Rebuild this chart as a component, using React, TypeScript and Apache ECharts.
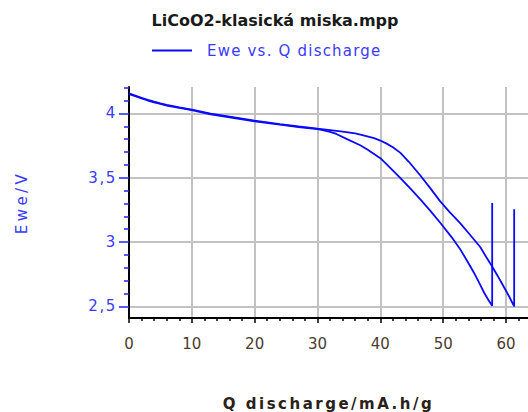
import React, { useEffect, useRef } from "react";
import * as echarts from "echarts";

const TITLE = "LiCoO2-klasická miska.mpp";
const SERIES_NAME = "Ewe vs. Q discharge";
const X_NAME = "Q discharge/mA.h/g";
const Y_NAME = "Ewe/V";

const X_TICKS = [0, 10, 20, 30, 40, 50, 60];
const Y_TICKS = [2.5, 3, 3.5, 4];
const Y_TICK_LABELS = ["2,5", "3", "3,5", "4"];

// cycle with the larger capacity (ends ~61.3 mA.h/g), then relaxation jump
const Q_CYCLE1 = [0, 1, 2, 3, 4, 5, 6, 8, 10, 13, 16, 20, 24, 27, 30, 32, 34, 36, 37.3, 39, 40, 41, 42, 43.2, 44.5, 46.4, 48, 49.5, 51, 52.7, 54.3, 55.9, 56.8, 57.8, 58.7, 59.6, 60.5, 61.3, 61.3];
const E_CYCLE1 = [4.155, 4.138, 4.121, 4.105, 4.091, 4.078, 4.066, 4.047, 4.03, 3.998, 3.975, 3.943, 3.917, 3.898, 3.881, 3.87, 3.859, 3.844, 3.829, 3.807, 3.789, 3.765, 3.737, 3.693, 3.626, 3.515, 3.415, 3.318, 3.235, 3.147, 3.055, 2.962, 2.888, 2.81, 2.735, 2.657, 2.577, 2.5, 3.256];

// cycle with the smaller capacity (ends ~57.8 mA.h/g), then relaxation jump
const Q_CYCLE2 = [0, 1, 2, 3, 4, 5, 6, 8, 10, 13, 16, 20, 24, 27, 30, 31, 32, 33, 34.7, 36.8, 38, 40, 41.5, 43.2, 44.8, 46.4, 48, 49.5, 51.4, 52.7, 53.8, 54.9, 55.9, 56.5, 57.2, 57.8, 57.8];
const E_CYCLE2 = [4.15, 4.133, 4.116, 4.1, 4.086, 4.073, 4.061, 4.042, 4.025, 3.993, 3.97, 3.938, 3.912, 3.893, 3.877, 3.868, 3.856, 3.84, 3.8, 3.752, 3.718, 3.652, 3.58, 3.497, 3.415, 3.33, 3.24, 3.152, 3.035, 2.945, 2.855, 2.762, 2.668, 2.608, 2.55, 2.505, 3.303];

const LINE_COLOR = "#0a0aff";
const BLUE_TEXT = "#3a3aff";
const GRID_COLOR = "#c2c2c2";
const FONT = "'DejaVu Sans', sans-serif";

const CSS = `
text[style*="lsLegend"], text[font-family*="lsLegend"] { letter-spacing: 1.2px; }
text[style*="lsXName"], text[font-family*="lsXName"] { letter-spacing: 2.5px; }
text[style*="lsYName"], text[font-family*="lsYName"] { letter-spacing: 3.4px; }
text[style*="lsYLab"], text[font-family*="lsYLab"] { letter-spacing: 1.6px; }
`;

function pairs(q: number[], e: number[]) {
  return q.map((x, i) => [x, e[i]]);
}

export default function App() {
  const ref = useRef<HTMLDivElement>(null);
  useEffect(() => {
    if (!ref.current) return;
    const chart = echarts.init(ref.current, undefined, { renderer: "svg" });
    const isTick = (arr: number[], v: number) => arr.findIndex((t) => Math.abs(t - v) < 1e-6);
    chart.setOption({
      animation: false,
      title: {
        text: TITLE,
        left: 275,
        top: 12,
        padding: 0,
        textAlign: "center",
        textStyle: { fontFamily: FONT, fontSize: 16, fontWeight: "bold", color: "#1a1a1a" },
      },
      legend: {
        data: [SERIES_NAME],
        left: 152,
        top: 43,
        padding: 0,
        icon: "rect",
        itemWidth: 40,
        itemHeight: 2,
        itemStyle: { color: LINE_COLOR },
        textStyle: {
          fontFamily: "'DejaVu Sans', lsLegend, sans-serif",
          fontSize: 15,
          color: BLUE_TEXT,
          padding: [0, 0, 0, 10],
        },
      },
      grid: { left: 129, top: 87, right: 0, bottom: 94, containLabel: false, outerBoundsMode: "none" },
      xAxis: {
        type: "value",
        min: 0,
        max: 63.5,
        interval: 10,
        name: X_NAME,
        nameLocation: "middle",
        nameGap: 78,
        nameTextStyle: {
          fontFamily: "'DejaVu Sans', lsXName, sans-serif",
          fontSize: 15,
          fontWeight: "bold",
          color: "#2a2018",
        },
        axisLine: { show: true, onZero: false, lineStyle: { color: "#000", width: 2 } },
        axisTick: { show: true, customValues: X_TICKS, length: 5, lineStyle: { color: "#000", width: 1.5 } },
        minorTick: { show: true, splitNumber: 5, length: 3, lineStyle: { color: "#000", width: 1.5 } },
        axisLabel: {
          customValues: X_TICKS,
          margin: 18,
          fontFamily: FONT,
          fontSize: 15,
          color: "#4a3c2e",
          formatter: (v: number) => (isTick(X_TICKS, v) >= 0 ? String(v) : ""),
        },
        splitLine: { show: true, showMinLine: true, showMaxLine: true, lineStyle: { color: GRID_COLOR, width: 2, type: "solid", opacity: 1 } },
      },
      yAxis: {
        type: "value",
        min: 2.41,
        max: 4.205,
        splitNumber: 4,
        name: Y_NAME,
        nameLocation: "middle",
        nameGap: 100,
        nameRotate: 90,
        nameTextStyle: { fontFamily: "'DejaVu Sans', lsYName, sans-serif", fontSize: 15, color: BLUE_TEXT },
        axisLine: { show: true, onZero: false, lineStyle: { color: "#000", width: 2 } },
        axisTick: { show: true, customValues: Y_TICKS, length: 10, lineStyle: { color: "#2020ff", width: 1.5 } },
        minorTick: { show: true, splitNumber: 5, length: 5, lineStyle: { color: "#2020ff", width: 1.5 } },
        axisLabel: {
          customValues: Y_TICKS,
          margin: 12,
          fontFamily: "'DejaVu Sans', lsYLab, sans-serif",
          fontSize: 15,
          color: BLUE_TEXT,
          formatter: (v: number) => {
            const i = isTick(Y_TICKS, v);
            return i >= 0 ? Y_TICK_LABELS[i] : "";
          },
        },
        splitLine: { show: true, showMinLine: true, showMaxLine: true, lineStyle: { color: GRID_COLOR, width: 2, type: "solid", opacity: 1 } },
      },
      series: [
        {
          name: SERIES_NAME,
          type: "line",
          data: pairs(Q_CYCLE1, E_CYCLE1),
          showSymbol: false,
          symbol: "none",
          lineStyle: { color: LINE_COLOR, width: 1.8 },
          itemStyle: { color: LINE_COLOR },
        },
        {
          name: SERIES_NAME,
          type: "line",
          data: pairs(Q_CYCLE2, E_CYCLE2),
          showSymbol: false,
          symbol: "none",
          lineStyle: { color: LINE_COLOR, width: 1.8 },
          itemStyle: { color: LINE_COLOR },
        },
      ],
    });
    return () => chart.dispose();
  }, []);
  return (
    <>
      <style>{CSS}</style>
      <div
        ref={ref}
        style={{ position: "fixed", left: 0, top: 0, width: 528, height: 412, background: "#fff" }}
      />
    </>
  );
}
